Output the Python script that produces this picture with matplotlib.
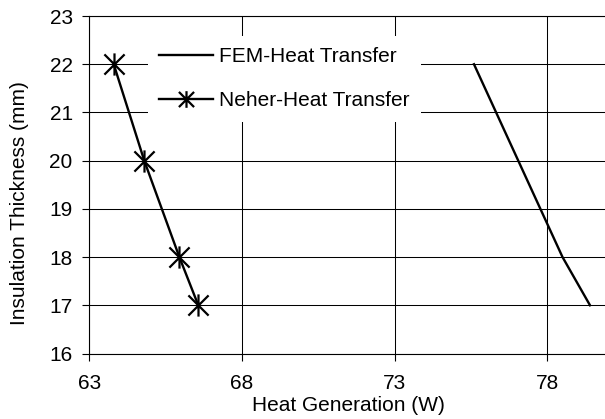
import matplotlib
matplotlib.use('Agg')
import matplotlib.pyplot as plt
from matplotlib.path import Path

# values
thickness = [22, 20, 18, 17]
fem_heat = [75.6, 77.05, 78.5, 79.4]
neher_heat = [63.8, 64.8, 65.95, 66.57]
x_ticks = [63, 68, 73, 78]
y_ticks = [16, 17, 18, 19, 20, 21, 22, 23]

plt.rcParams['font.family'] = ['Liberation Sans', 'DejaVu Sans']
plt.rcParams['font.size'] = 15

# excel-style star marker: an X with a vertical bar through it
star = Path([(-1, -1), (1, 1), (-1, 1), (1, -1), (0, -1.1), (0, 1.1)],
            [Path.MOVETO, Path.LINETO, Path.MOVETO, Path.LINETO, Path.MOVETO, Path.LINETO])

W, H = 605, 419
fig = plt.figure(figsize=(W / 100, H / 100), dpi=100)
left, top, bottom = 89.3, 16.0, 353.5
ax = fig.add_axes([left / W, (H - bottom) / H, 1 - left / W, (bottom - top) / H])

ax.plot(fem_heat, thickness, color='black', lw=1.7, label='FEM-Heat Transfer')
ax.plot(neher_heat, thickness, color='black', lw=1.7, marker=star,
        markersize=16, markeredgewidth=1.6, label='Neher-Heat Transfer')

ax.set_xlim(63, 63 + (W - left) / 30.53)
ax.set_ylim(16, 23)
ax.set_xticks(x_ticks)
ax.set_yticks(y_ticks)
ax.grid(True, color='black', lw=0.75)
ax.set_axisbelow(True)

for s in ['left', 'bottom', 'top']:
    ax.spines[s].set_color('black')
    ax.spines[s].set_linewidth(0.8)
ax.spines['right'].set_visible(False)

ax.tick_params(axis='x', direction='out', length=5, width=0.8, pad=10)
ax.tick_params(axis='y', direction='out', length=5, width=0.8, pad=7)

ax.set_xlabel('Heat Generation (W)')
ax.xaxis.label.set_va('baseline')
ax.xaxis.set_label_coords((348.5 - left) / (W - left), (bottom - 411.0) / (bottom - top))
ax.set_ylabel('Insulation Thickness (mm)')
ax.yaxis.label.set_va('baseline')
ax.yaxis.set_label_coords((25 - left) / (W - left), (bottom - 203.5) / (bottom - top))

leg = ax.legend(loc='upper left', bbox_to_anchor=(148 / W, 1 - 36 / H),
                bbox_transform=fig.transFigure, borderaxespad=0,
                frameon=True, fancybox=False, edgecolor='none', facecolor='white',
                framealpha=1, handlelength=2.55, handletextpad=0.3,
                labelspacing=1.2, borderpad=0.55, markerscale=0.75)

fig.savefig('out.png', dpi=100)
